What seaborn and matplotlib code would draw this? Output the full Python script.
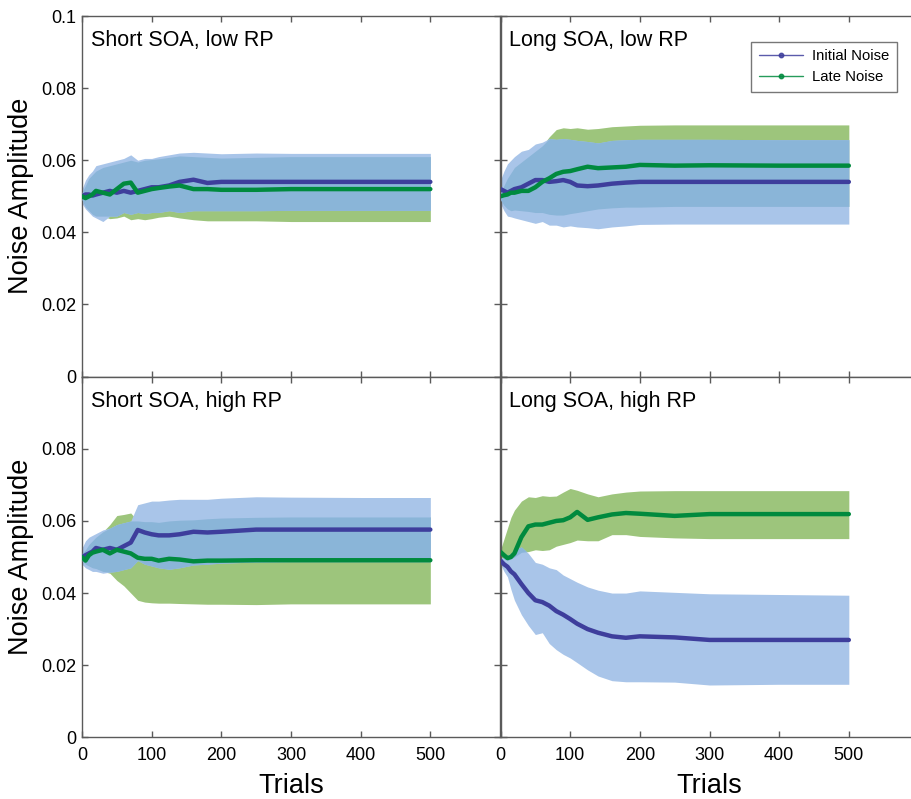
import numpy as np
import pandas as pd
import matplotlib
matplotlib.use("Agg")
import matplotlib.pyplot as plt
from matplotlib.lines import Line2D
import seaborn as sns

# Trial numbers at which the running estimates were sampled
trials = [0, 5, 10, 15, 20, 30, 40, 50, 60, 70, 80, 90, 100, 110, 125, 140, 160, 180, 200, 250, 300, 400, 500]

# Short SOA, low RP
sl_init_mean = [0.050, 0.0505, 0.0505, 0.0502, 0.0505, 0.051, 0.0515, 0.051, 0.0515, 0.051, 0.0515, 0.052, 0.0525, 0.0525, 0.053, 0.054, 0.0546, 0.0537, 0.054, 0.054, 0.054, 0.054, 0.054]
sl_init_lo = [0.048, 0.0465, 0.0455, 0.0445, 0.044, 0.043, 0.0445, 0.0445, 0.0455, 0.045, 0.0455, 0.0452, 0.0455, 0.0455, 0.046, 0.0455, 0.046, 0.046, 0.046, 0.046, 0.0461, 0.0461, 0.0461]
sl_init_hi = [0.052, 0.0545, 0.056, 0.057, 0.0585, 0.059, 0.0595, 0.060, 0.0605, 0.0615, 0.060, 0.0605, 0.0605, 0.061, 0.0615, 0.062, 0.0622, 0.062, 0.0618, 0.062, 0.0619, 0.0619, 0.0619]
sl_late_mean = [0.050, 0.0495, 0.050, 0.0505, 0.0515, 0.051, 0.0505, 0.052, 0.0535, 0.0538, 0.051, 0.0515, 0.052, 0.0523, 0.0527, 0.053, 0.052, 0.052, 0.0518, 0.0518, 0.052, 0.052, 0.052]
sl_late_lo = [0.049, 0.047, 0.046, 0.045, 0.0445, 0.0445, 0.0438, 0.044, 0.0445, 0.0435, 0.0438, 0.0435, 0.0438, 0.0442, 0.0445, 0.044, 0.0435, 0.0432, 0.0432, 0.0432, 0.043, 0.043, 0.043]
sl_late_hi = [0.051, 0.053, 0.055, 0.056, 0.057, 0.058, 0.0585, 0.059, 0.0595, 0.060, 0.0595, 0.060, 0.0602, 0.0604, 0.0608, 0.0612, 0.061, 0.0608, 0.0606, 0.0608, 0.061, 0.061, 0.061]

# Long SOA, low RP
ll_init_mean = [0.052, 0.0515, 0.051, 0.0515, 0.052, 0.0525, 0.0535, 0.0545, 0.0545, 0.054, 0.0542, 0.0545, 0.054, 0.053, 0.0528, 0.053, 0.0535, 0.0538, 0.054, 0.054, 0.054, 0.054, 0.054]
ll_init_lo = [0.048, 0.046, 0.0445, 0.0443, 0.044, 0.0435, 0.043, 0.0425, 0.043, 0.042, 0.042, 0.0415, 0.0418, 0.0415, 0.0413, 0.041, 0.0415, 0.0418, 0.0422, 0.0423, 0.0423, 0.0423, 0.0423]
ll_init_hi = [0.0545, 0.057, 0.059, 0.060, 0.061, 0.0625, 0.063, 0.0645, 0.065, 0.066, 0.0658, 0.066, 0.0658, 0.0655, 0.0652, 0.0648, 0.0655, 0.0657, 0.0658, 0.0658, 0.0658, 0.0657, 0.0657]
ll_late_mean = [0.050, 0.0503, 0.0505, 0.051, 0.051, 0.0515, 0.0515, 0.0525, 0.054, 0.055, 0.0562, 0.0568, 0.057, 0.0575, 0.0582, 0.0578, 0.058, 0.0582, 0.0587, 0.0585, 0.0586, 0.0585, 0.0585]
ll_late_lo = [0.049, 0.0475, 0.0465, 0.046, 0.0462, 0.046, 0.0458, 0.0455, 0.0455, 0.045, 0.0448, 0.0448, 0.0452, 0.0455, 0.046, 0.0465, 0.0468, 0.047, 0.047, 0.0472, 0.0472, 0.0472, 0.0472]
ll_late_hi = [0.051, 0.053, 0.055, 0.0565, 0.058, 0.0595, 0.061, 0.0625, 0.064, 0.0665, 0.0685, 0.069, 0.0688, 0.069, 0.0686, 0.0688, 0.0693, 0.0695, 0.0697, 0.0698, 0.0698, 0.0698, 0.0698]

# Short SOA, high RP
sh_init_mean = [0.050, 0.0505, 0.051, 0.0515, 0.0525, 0.052, 0.0525, 0.052, 0.053, 0.054, 0.0575, 0.0568, 0.0563, 0.056, 0.056, 0.0563, 0.057, 0.0568, 0.057, 0.0576, 0.0576, 0.0576, 0.0576]
sh_init_lo = [0.048, 0.047, 0.0465, 0.046, 0.046, 0.0455, 0.0458, 0.046, 0.0465, 0.047, 0.049, 0.048, 0.0475, 0.047, 0.0466, 0.047, 0.0478, 0.048, 0.0483, 0.0486, 0.0487, 0.0487, 0.0487]
sh_init_hi = [0.0525, 0.0545, 0.0555, 0.056, 0.0565, 0.0575, 0.058, 0.059, 0.0595, 0.060, 0.0645, 0.065, 0.0655, 0.0655, 0.0658, 0.066, 0.066, 0.066, 0.0663, 0.0667, 0.0666, 0.0665, 0.0665]
sh_late_mean = [0.050, 0.049, 0.0505, 0.0512, 0.0515, 0.052, 0.051, 0.052, 0.0515, 0.051, 0.0498, 0.0495, 0.0495, 0.049, 0.0495, 0.0493, 0.0488, 0.049, 0.049, 0.0491, 0.0491, 0.0491, 0.0491]
sh_late_lo = [0.049, 0.048, 0.0475, 0.047, 0.0468, 0.046, 0.0455, 0.0435, 0.042, 0.040, 0.038, 0.0375, 0.0373, 0.0372, 0.0372, 0.0371, 0.037, 0.0369, 0.0369, 0.0368, 0.037, 0.037, 0.037]
sh_late_hi = [0.051, 0.052, 0.0535, 0.0545, 0.0555, 0.057, 0.059, 0.0615, 0.0618, 0.0622, 0.060, 0.0598, 0.0598, 0.0596, 0.060, 0.0602, 0.0603, 0.0606, 0.0608, 0.061, 0.0611, 0.0611, 0.0611]

# Long SOA, high RP
lh_init_mean = [0.049, 0.048, 0.0473, 0.046, 0.0452, 0.0425, 0.040, 0.038, 0.0375, 0.0365, 0.035, 0.034, 0.0328, 0.0315, 0.030, 0.029, 0.028, 0.0276, 0.028, 0.0277, 0.027, 0.027, 0.027]
lh_init_lo = [0.048, 0.046, 0.0445, 0.041, 0.038, 0.034, 0.031, 0.0285, 0.029, 0.026, 0.0243, 0.023, 0.022, 0.0207, 0.0187, 0.017, 0.0157, 0.0154, 0.0154, 0.0153, 0.0145, 0.0147, 0.0147]
lh_init_hi = [0.0495, 0.050, 0.0505, 0.051, 0.052, 0.0528, 0.051, 0.0485, 0.048, 0.047, 0.0465, 0.045, 0.044, 0.043, 0.0417, 0.0408, 0.040, 0.040, 0.0406, 0.0402, 0.0398, 0.0396, 0.0394]
lh_late_mean = [0.0514, 0.0505, 0.0497, 0.050, 0.051, 0.0555, 0.0585, 0.059, 0.059, 0.0595, 0.060, 0.0602, 0.061, 0.0625, 0.0603, 0.061, 0.0618, 0.0622, 0.062, 0.0614, 0.0619, 0.0619, 0.0619]
lh_late_lo = [0.050, 0.0495, 0.049, 0.0495, 0.050, 0.0513, 0.0515, 0.052, 0.0518, 0.052, 0.053, 0.0535, 0.054, 0.0547, 0.0545, 0.0545, 0.0562, 0.0562, 0.0557, 0.0553, 0.0551, 0.0551, 0.0551]
lh_late_hi = [0.052, 0.055, 0.058, 0.061, 0.063, 0.0655, 0.0667, 0.0665, 0.067, 0.0668, 0.0669, 0.068, 0.069, 0.0685, 0.0675, 0.0667, 0.0675, 0.068, 0.0683, 0.0684, 0.0684, 0.0684, 0.0684]

panel_titles = ["Short SOA, low RP", "Long SOA, low RP", "Short SOA, high RP", "Long SOA, high RP"]
series_names = ["Initial Noise", "Late Noise"]
x_ticks = [0, 100, 200, 300, 400, 500]
y_ticks = [0, 0.02, 0.04, 0.06, 0.08, 0.1]
y_tick_labels = ["0", "0.02", "0.04", "0.06", "0.08", "0.1"]

panels = [
    (sl_init_mean, sl_init_lo, sl_init_hi, sl_late_mean, sl_late_lo, sl_late_hi),
    (ll_init_mean, ll_init_lo, ll_init_hi, ll_late_mean, ll_late_lo, ll_late_hi),
    (sh_init_mean, sh_init_lo, sh_init_hi, sh_late_mean, sh_late_lo, sh_late_hi),
    (lh_init_mean, lh_init_lo, lh_init_hi, lh_late_mean, lh_late_lo, lh_late_hi),
]

sns.set_theme(style="ticks")
plt.rcParams["font.family"] = ["Liberation Sans", "DejaVu Sans"]
plt.rcParams["text.color"] = "black"
plt.rcParams["axes.labelcolor"] = "black"

line_colors = {"Initial Noise": "#3e3e9c", "Late Noise": "#008a3e"}
band_init = "#a9c5e9"
band_late = "#9dc57c"
band_both = "#8ab5d8"
spine_color = "#5a5a5a"

W, H = 911, 799
fig = plt.figure(figsize=(W / 100, H / 100), dpi=100)

ax_w = 418 / W
ax_h = 360.6 / H
lefts = [82 / W, 500.5 / W]
bottoms = [(H - 376.6) / H, (H - 737.3) / H]

axes = []
for row in range(2):
    for col in range(2):
        axes.append(fig.add_axes([lefts[col], bottoms[row], ax_w, ax_h]))

t = np.array(trials, dtype=float)
for i, (ax, data) in enumerate(zip(axes, panels)):
    im, ilo, ihi, lm, llo, lhi = [np.array(d) for d in data]
    row, col = divmod(i, 2)

    # confidence bands: late, initial, and the region where they overlap
    ax.fill_between(t, llo, lhi, color=band_late, lw=0, zorder=1)
    ax.fill_between(t, ilo, ihi, color=band_init, lw=0, zorder=2)
    both_lo = np.maximum(ilo, llo)
    both_hi = np.minimum(ihi, lhi)
    ax.fill_between(t, both_lo, both_hi, where=both_hi > both_lo, interpolate=True,
                    color=band_both, lw=0, zorder=3)

    df = pd.DataFrame({
        "trial": np.concatenate([t, t]),
        "amp": np.concatenate([im, lm]),
        "noise": [series_names[0]] * len(t) + [series_names[1]] * len(t),
    })
    sns.lineplot(data=df, x="trial", y="amp", hue="noise", hue_order=series_names,
                 palette=line_colors, lw=3.2, legend=False, ax=ax, zorder=4,
                 solid_capstyle="round", solid_joinstyle="round")

    ax.set_xlim(0, 600)
    ax.set_ylim(0, 0.1)
    ax.set_xticks(x_ticks)
    ax.set_yticks(y_ticks)
    ax.set_xlabel("")
    ax.set_ylabel("")
    for s in ax.spines.values():
        s.set_visible(True)
        s.set_color(spine_color)
        s.set_linewidth(1.0)
    ax.tick_params(direction="in", length=4, width=1.0, color=spine_color,
                   top=True, right=True, labelsize=13, labelcolor="black")
    ax.tick_params(axis="y", pad=4)
    ax.tick_params(axis="x", pad=7)

    if col == 0:
        labels = list(y_tick_labels)
        if row == 1:
            labels[-1] = ""
        ax.set_yticklabels(labels)
    else:
        ax.set_yticklabels([])
    if row == 1:
        ax.set_xticklabels([str(v) for v in x_ticks])
    else:
        ax.set_xticklabels([])

    ax.text(0.021, 0.917, panel_titles[i], transform=ax.transAxes,
            fontsize=15.5, color="black", ha="left", va="baseline")

# legend in the top-right panel
handles = [Line2D([0], [0], color=line_colors[n], lw=1.0, marker="o", markersize=3.2,
                  markerfacecolor=line_colors[n], markeredgecolor=line_colors[n], alpha=0.85)
           for n in series_names]
leg = axes[1].legend(handles, series_names, loc="upper right",
                     bbox_to_anchor=(0.9486, 0.928), borderaxespad=0, fontsize=10.7,
                     frameon=True, fancybox=False, handlelength=3.0, handletextpad=0.6,
                     borderpad=0.5, labelspacing=0.45)
leg.get_frame().set_edgecolor("#555555")
leg.get_frame().set_linewidth(1.0)
for txt in leg.get_texts():
    txt.set_color("black")

# shared axis labels
fig.text(21 / W, (H - 196) / H, "Noise Amplitude", rotation=90, ha="center", va="center", fontsize=19.5)
fig.text(21 / W, (H - 557) / H, "Noise Amplitude", rotation=90, ha="center", va="center", fontsize=19.5)
fig.text((82 + 209) / W, (H - 793) / H, "Trials", ha="center", va="baseline", fontsize=19.5)
fig.text((500.5 + 209) / W, (H - 793) / H, "Trials", ha="center", va="baseline", fontsize=19.5)

fig.savefig("out.png", dpi=100, facecolor="white")
